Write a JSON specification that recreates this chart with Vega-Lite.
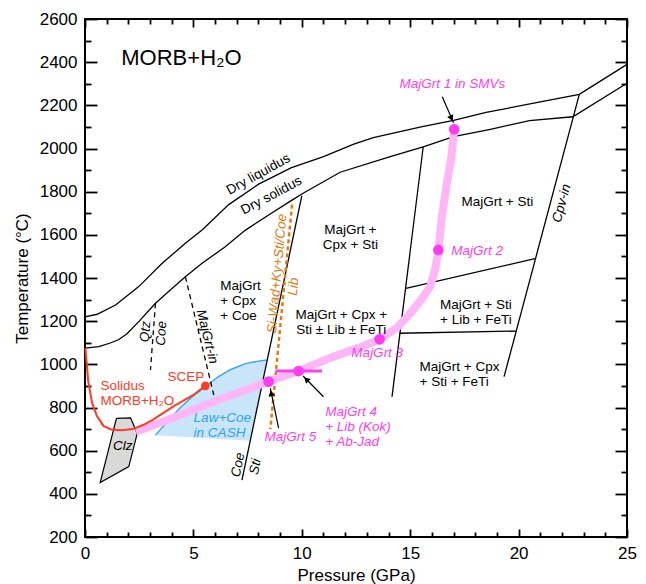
{
  "$schema": "https://vega.github.io/schema/vega-lite/v6.json",
  "width": 542,
  "height": 518,
  "autosize": {"type": "none"},
  "padding": {"left": 85, "top": 19, "right": 19, "bottom": 47},
  "config": {
    "font": "Liberation Sans",
    "view": {"stroke": "#000", "strokeWidth": 2},
    "axis": {"grid": false, "domain": false, "labelFlush": false, "labelOverlap": false, "tickColor": "#000", "tickWidth": 1.8, "labelColor": "#000", "labelFontSize": 17, "titleFontSize": 17, "titleFontWeight": "normal", "titleColor": "#000", "labelFont": "Liberation Sans", "titleFont": "Liberation Sans"},
    "text": {"font": "Liberation Sans", "fontSize": 13.5}
  },
  "datasets": {
    "law": [
      {"o": 1, "P": 3.25, "T": 672}, {"o": 2, "P": 3.8, "T": 735}, {"o": 3, "P": 4.4, "T": 800}, {"o": 4, "P": 5.0, "T": 855},
      {"o": 5, "P": 5.55, "T": 895}, {"o": 6, "P": 6.1, "T": 940}, {"o": 7, "P": 6.7, "T": 975}, {"o": 8, "P": 7.4, "T": 1003},
      {"o": 9, "P": 8.0, "T": 1015}, {"o": 10, "P": 8.4, "T": 1020}, {"o": 11, "P": 7.62, "T": 646}, {"o": 12, "P": 3.25, "T": 672}
    ],
    "clz": [
      {"o": 1, "P": 1.45, "T": 750}, {"o": 2, "P": 2.1, "T": 752}, {"o": 3, "P": 2.41, "T": 680}, {"o": 4, "P": 2.02, "T": 526},
      {"o": 5, "P": 0.7, "T": 452}, {"o": 6, "P": 1.45, "T": 750}
    ],
    "lines": [
      {"id": "liq", "o": 1, "P": 0, "T": 1220}, {"id": "liq", "o": 2, "P": 0.56, "T": 1232}, {"id": "liq", "o": 3, "P": 1.41, "T": 1275},
      {"id": "liq", "o": 4, "P": 2.48, "T": 1360}, {"id": "liq", "o": 5, "P": 3.56, "T": 1468}, {"id": "liq", "o": 6, "P": 4.63, "T": 1561},
      {"id": "liq", "o": 7, "P": 5.4, "T": 1622}, {"id": "liq", "o": 8, "P": 6.63, "T": 1740}, {"id": "liq", "o": 9, "P": 8.01, "T": 1835},
      {"id": "liq", "o": 10, "P": 9.5, "T": 1910}, {"id": "liq", "o": 11, "P": 11.0, "T": 1962}, {"id": "liq", "o": 12, "P": 12.4, "T": 2020},
      {"id": "liq", "o": 13, "P": 13.3, "T": 2050}, {"id": "liq", "o": 14, "P": 15.5, "T": 2100}, {"id": "liq", "o": 15, "P": 17.0, "T": 2130},
      {"id": "liq", "o": 16, "P": 18.5, "T": 2167}, {"id": "liq", "o": 17, "P": 20.7, "T": 2210}, {"id": "liq", "o": 18, "P": 22.8, "T": 2251},
      {"id": "liq", "o": 19, "P": 25, "T": 2390},
      {"id": "sol", "o": 1, "P": 0, "T": 1075}, {"id": "sol", "o": 2, "P": 0.64, "T": 1082}, {"id": "sol", "o": 3, "P": 1.2, "T": 1100},
      {"id": "sol", "o": 4, "P": 1.56, "T": 1115}, {"id": "sol", "o": 5, "P": 1.94, "T": 1142}, {"id": "sol", "o": 6, "P": 2.5, "T": 1200},
      {"id": "sol", "o": 7, "P": 3.25, "T": 1283}, {"id": "sol", "o": 8, "P": 4.0, "T": 1350}, {"id": "sol", "o": 9, "P": 4.63, "T": 1406},
      {"id": "sol", "o": 10, "P": 5.4, "T": 1468}, {"id": "sol", "o": 11, "P": 6.47, "T": 1545}, {"id": "sol", "o": 12, "P": 7.4, "T": 1622},
      {"id": "sol", "o": 13, "P": 8.47, "T": 1692}, {"id": "sol", "o": 14, "P": 9.55, "T": 1761}, {"id": "sol", "o": 15, "P": 10.1, "T": 1795},
      {"id": "sol", "o": 16, "P": 11.77, "T": 1890}, {"id": "sol", "o": 17, "P": 14.08, "T": 1962}, {"id": "sol", "o": 18, "P": 15.6, "T": 2008},
      {"id": "sol", "o": 19, "P": 17.0, "T": 2055}, {"id": "sol", "o": 20, "P": 18.7, "T": 2089}, {"id": "sol", "o": 21, "P": 20.5, "T": 2129},
      {"id": "sol", "o": 22, "P": 22.5, "T": 2147}, {"id": "sol", "o": 23, "P": 25, "T": 2302},
      {"id": "coesti", "o": 1, "P": 10.0, "T": 1780}, {"id": "coesti", "o": 2, "P": 7.24, "T": 464},
      {"id": "v15", "o": 1, "P": 15.6, "T": 2008}, {"id": "v15", "o": 2, "P": 14.16, "T": 850},
      {"id": "cpv", "o": 1, "P": 22.8, "T": 2251}, {"id": "cpv", "o": 2, "P": 19.33, "T": 943},
      {"id": "h1", "o": 1, "P": 14.8, "T": 1352}, {"id": "h1", "o": 2, "P": 20.8, "T": 1491},
      {"id": "h2", "o": 1, "P": 14.5, "T": 1144}, {"id": "h2", "o": 2, "P": 19.88, "T": 1154}
    ],
    "dashed": [
      {"id": "qtz", "o": 1, "P": 3.25, "T": 1283}, {"id": "qtz", "o": 2, "P": 3.02, "T": 974},
      {"id": "mgi", "o": 1, "P": 4.63, "T": 1406}, {"id": "mgi", "o": 2, "P": 5.94, "T": 858}
    ],
    "orange": [
      {"o": 1, "P": 9.55, "T": 1740}, {"o": 2, "P": 8.55, "T": 700}
    ],
    "red": [
      {"o": 1, "P": 0.02, "T": 1075}, {"o": 2, "P": 0.08, "T": 1000}, {"o": 3, "P": 0.15, "T": 920}, {"o": 4, "P": 0.33, "T": 820},
      {"o": 5, "P": 0.55, "T": 760}, {"o": 6, "P": 0.85, "T": 715}, {"o": 7, "P": 1.2, "T": 698}, {"o": 8, "P": 1.7, "T": 695},
      {"o": 9, "P": 2.2, "T": 700}, {"o": 10, "P": 2.7, "T": 720}, {"o": 11, "P": 3.1, "T": 742}, {"o": 12, "P": 4.1, "T": 806},
      {"o": 13, "P": 5.0, "T": 858}, {"o": 14, "P": 5.55, "T": 900}
    ],
    "pink": [
      {"o": 1, "P": 2.35, "T": 688}, {"o": 2, "P": 3.5, "T": 730}, {"o": 3, "P": 4.63, "T": 775}, {"o": 4, "P": 6.17, "T": 836},
      {"o": 5, "P": 7.7, "T": 892}, {"o": 6, "P": 8.47, "T": 920}, {"o": 7, "P": 9.85, "T": 969}, {"o": 8, "P": 11.31, "T": 1030},
      {"o": 9, "P": 12.85, "T": 1085}, {"o": 10, "P": 13.59, "T": 1116}, {"o": 11, "P": 14.39, "T": 1170}, {"o": 12, "P": 15.0, "T": 1236},
      {"o": 13, "P": 15.61, "T": 1313}, {"o": 14, "P": 15.92, "T": 1360}, {"o": 15, "P": 16.15, "T": 1440}, {"o": 16, "P": 16.3, "T": 1530},
      {"o": 17, "P": 16.46, "T": 1684}, {"o": 18, "P": 16.69, "T": 1839}, {"o": 19, "P": 16.9, "T": 1960}, {"o": 20, "P": 17.03, "T": 2089}
    ],
    "arrows": [
      {"id": "a1", "P": 16.48, "T": 2240, "P2": 17.0, "T2": 2119},
      {"id": "a5", "P": 8.93, "T": 704, "P2": 8.55, "T2": 889},
      {"id": "a4", "P": 11.0, "T": 850, "P2": 10.06, "T2": 946}
    ],
    "dots": [
      {"name": "MajGrt 1", "P": 17.03, "T": 2089}, {"name": "MajGrt 2", "P": 16.3, "T": 1530},
      {"name": "MajGrt 3", "P": 13.59, "T": 1116}, {"name": "MajGrt 4", "P": 9.85, "T": 969},
      {"name": "MajGrt 5", "P": 8.47, "T": 920}
    ]
  },
  "encoding": {
    "x": {"field": "P", "type": "quantitative", "scale": {"domain": [0, 25], "nice": false, "zero": false}, "axis": null},
    "y": {"field": "T", "type": "quantitative", "scale": {"domain": [200, 2600], "nice": false, "zero": false}, "axis": null}
  },
  "layer": [
    {
      "data": {"name": "law"},
      "mark": {"type": "line", "fill": "#c9e5f9", "strokeOpacity": 0},
      "encoding": {
        "x": {"field": "P", "type": "quantitative", "scale": {"domain": [0, 25], "nice": false, "zero": false},
          "axis": {"orient": "bottom", "values": [0,1,2,3,4,5,6,7,8,9,10,11,12,13,14,15,16,17,18,19,20,21,22,23,24,25],
            "labelExpr": "datum.value % 5 === 0 ? '' + datum.value : ''",
            "tickSize": {"condition": {"test": "datum.value % 5 === 0", "value": -8}, "value": -5},
            "labelPadding": 16, "title": "Pressure (GPa)", "titlePadding": 3}},
        "y": {"field": "T", "type": "quantitative", "scale": {"domain": [200, 2600], "nice": false, "zero": false},
          "axis": {"orient": "left", "values": [200,300,400,500,600,700,800,900,1000,1100,1200,1300,1400,1500,1600,1700,1800,1900,2000,2100,2200,2300,2400,2500,2600],
            "labelExpr": "datum.value % 200 === 0 ? '' + datum.value : ''",
            "tickSize": {"condition": {"test": "datum.value % 200 === 0", "value": -12}, "value": -6},
            "labelPadding": 20, "title": "Temperature (°C)", "titlePadding": 8}},
        "order": {"field": "o", "type": "quantitative"}
      }
    },
    {
      "data": {"name": "clz"},
      "mark": {"type": "line", "fill": "#d9d9d9", "stroke": "#000", "strokeWidth": 1.2},
      "encoding": {
        "x": {"field": "P", "type": "quantitative", "scale": {"domain": [0, 25], "nice": false, "zero": false},
          "axis": {"orient": "top", "values": [0,1,2,3,4,5,6,7,8,9,10,11,12,13,14,15,16,17,18,19,20,21,22,23,24,25],
            "labels": false, "title": null,
            "tickSize": {"condition": {"test": "datum.value % 5 === 0", "value": -8}, "value": -5}}},
        "y": {"field": "T", "type": "quantitative", "scale": {"domain": [200, 2600], "nice": false, "zero": false},
          "axis": {"orient": "right", "values": [200,300,400,500,600,700,800,900,1000,1100,1200,1300,1400,1500,1600,1700,1800,1900,2000,2100,2200,2300,2400,2500,2600],
            "labels": false, "title": null,
            "tickSize": {"condition": {"test": "datum.value % 200 === 0", "value": -12}, "value": -6}}},
        "order": {"field": "o", "type": "quantitative"}
      }
    },
    {
      "data": {"name": "law"},
      "transform": [{"filter": "datum.o <= 10"}],
      "mark": {"type": "line", "stroke": "#3aa6ee", "strokeWidth": 1.4},
      "encoding": {"order": {"field": "o", "type": "quantitative"}}
    },
    {
      "data": {"name": "lines"},
      "mark": {"type": "line", "stroke": "#000", "strokeWidth": 1.3},
      "encoding": {"detail": {"field": "id"}, "order": {"field": "o", "type": "quantitative"}}
    },
    {
      "data": {"name": "dashed"},
      "mark": {"type": "line", "stroke": "#000", "strokeWidth": 1.3, "strokeDash": [5, 4]},
      "encoding": {"detail": {"field": "id"}, "order": {"field": "o", "type": "quantitative"}}
    },
    {
      "data": {"name": "orange"},
      "mark": {"type": "line", "stroke": "#e07b12", "strokeWidth": 2.5, "strokeDash": [4, 3]},
      "encoding": {"order": {"field": "o", "type": "quantitative"}}
    },
    {
      "data": {"name": "pink"},
      "mark": {"type": "line", "stroke": "#ffb6f6", "strokeWidth": 8, "strokeCap": "butt", "strokeJoin": "round"},
      "encoding": {"order": {"field": "o", "type": "quantitative"}}
    },
    {
      "data": {"name": "red"},
      "mark": {"type": "line", "stroke": "#ff3a26", "strokeWidth": 2},
      "encoding": {"order": {"field": "o", "type": "quantitative"}}
    },
    {
      "data": {"values": [{"P": 8.78, "P2": 10.93, "T": 969}]},
      "mark": {"type": "rule", "stroke": "#ff3df0", "strokeWidth": 3},
      "encoding": {"x2": {"field": "P2"}}
    },
    {
      "data": {"name": "arrows"},
      "mark": {"type": "rule", "stroke": "#000", "strokeWidth": 1.2},
      "encoding": {"x2": {"field": "P2"}, "y2": {"field": "T2"}}
    },
    {
      "data": {"values": [{"P": 16.9, "T": 2140}]},
      "mark": {"type": "point", "shape": "triangle-up", "filled": true, "color": "#000", "opacity": 1, "size": 45, "angle": 155}
    },
    {
      "data": {"values": [{"P": 8.59, "T": 866}]},
      "mark": {"type": "point", "shape": "triangle-up", "filled": true, "color": "#000", "opacity": 1, "size": 45, "angle": 348}
    },
    {
      "data": {"values": [{"P": 10.21, "T": 930}]},
      "mark": {"type": "point", "shape": "triangle-up", "filled": true, "color": "#000", "opacity": 1, "size": 45, "angle": 315}
    },
    {
      "data": {"name": "dots"},
      "mark": {"type": "point", "filled": true, "color": "#ff3df0", "opacity": 1, "size": 115}
    },
    {
      "data": {"values": [{"P": 5.55, "T": 900}]},
      "mark": {"type": "point", "filled": true, "color": "#ff3a26", "opacity": 1, "size": 75}
    },
    {
      "data": {"values": [{"P": 4.45, "T": 2419, "label": "MORB+H₂O"}]},
      "mark": {"type": "text", "fontSize": 22, "color": "#000"},
      "encoding": {"text": {"field": "label"}}
    },
    {
      "data": {"values": [
        {"P": 19.02, "T": 1751, "label": "MajGrt + Sti"},
        {"P": 12.24, "T": 1622, "label": "MajGrt +\nCpx + Sti"},
        {"P": 11.82, "T": 1228, "label": "MajGrt + Cpx +\nSti ± Lib ± FeTi"}
      ]},
      "mark": {"type": "text", "color": "#000", "lineBreak": "\n", "lineHeight": 15},
      "encoding": {"text": {"field": "label"}}
    },
    {
      "data": {"values": [
        {"P": 6.24, "T": 1364, "label": "MajGrt\n+ Cpx\n+ Coe"},
        {"P": 16.38, "T": 1275, "label": "MajGrt + Sti\n+ Lib + FeTi"},
        {"P": 15.43, "T": 989, "label": "MajGrt + Cpx\n+ Sti + FeTi"}
      ]},
      "mark": {"type": "text", "color": "#000", "align": "left", "lineBreak": "\n", "lineHeight": 15},
      "encoding": {"text": {"field": "label"}}
    },
    {
      "data": {"values": [{"P": 8.0, "T": 1880, "label": "Dry liquidus"}]},
      "mark": {"type": "text", "color": "#000", "angle": 331},
      "encoding": {"text": {"field": "label"}}
    },
    {
      "data": {"values": [{"P": 8.6, "T": 1782, "label": "Dry solidus"}]},
      "mark": {"type": "text", "color": "#000", "angle": 332},
      "encoding": {"text": {"field": "label"}}
    },
    {
      "data": {"values": [{"P": 21.99, "T": 1746, "label": "Cpv-in"}]},
      "mark": {"type": "text", "color": "#000", "fontStyle": "italic", "angle": 285},
      "encoding": {"text": {"field": "label"}}
    },
    {
      "data": {"values": [{"P": 2.79, "T": 1151, "label": "Qtz"}, {"P": 3.53, "T": 1144, "label": "Coe"}]},
      "mark": {"type": "text", "color": "#000", "fontStyle": "italic", "angle": 274},
      "encoding": {"text": {"field": "label"}}
    },
    {
      "data": {"values": [{"P": 5.63, "T": 1128, "label": "MajGrt-in"}]},
      "mark": {"type": "text", "color": "#000", "fontStyle": "italic", "angle": 76},
      "encoding": {"text": {"field": "label"}}
    },
    {
      "data": {"values": [{"P": 7.06, "T": 534, "label": "Coe"}, {"P": 7.86, "T": 526, "label": "Sti"}]},
      "mark": {"type": "text", "color": "#000", "fontStyle": "italic", "angle": 282},
      "encoding": {"text": {"field": "label"}}
    },
    {
      "data": {"values": [{"P": 1.74, "T": 623, "label": "Clz"}]},
      "mark": {"type": "text", "color": "#000", "fontStyle": "italic"},
      "encoding": {"text": {"field": "label"}}
    },
    {
      "data": {"values": [
        {"P": 16.95, "T": 2297, "label": "MajGrt 1 in SMVs"},
        {"P": 13.48, "T": 1054, "label": "MajGrt 3"},
        {"P": 9.47, "T": 662, "label": "MajGrt 5"}
      ]},
      "mark": {"type": "text", "color": "#ff3df0", "fontStyle": "italic"},
      "encoding": {"text": {"field": "label"}}
    },
    {
      "data": {"values": [
        {"P": 16.89, "T": 1526, "label": "MajGrt 2"},
        {"P": 11.08, "T": 780, "label": "MajGrt 4\n+ Lib (Kok)\n+ Ab-Jad"}
      ]},
      "mark": {"type": "text", "color": "#ff3df0", "fontStyle": "italic", "align": "left", "lineBreak": "\n", "lineHeight": 15},
      "encoding": {"text": {"field": "label"}}
    },
    {
      "data": {"values": [{"P": 0.71, "T": 900, "label": "Solidus\nMORB+H₂O"}]},
      "mark": {"type": "text", "color": "#ff3a26", "align": "left", "lineBreak": "\n", "lineHeight": 15},
      "encoding": {"text": {"field": "label"}}
    },
    {
      "data": {"values": [{"P": 4.65, "T": 943, "label": "SCEP"}]},
      "mark": {"type": "text", "color": "#ff3a26"},
      "encoding": {"text": {"field": "label"}}
    },
    {
      "data": {"values": [{"P": 5.01, "T": 751, "label": "Law+Coe\nin CASH"}]},
      "mark": {"type": "text", "color": "#2ea3f2", "fontStyle": "italic", "align": "left", "lineBreak": "\n", "lineHeight": 15},
      "encoding": {"text": {"field": "label"}}
    },
    {
      "data": {"values": [{"P": 8.87, "T": 1420, "label": "Si-Wad+Ky+Sti/Coe"}, {"P": 9.62, "T": 1360, "label": "Lib"}]},
      "mark": {"type": "text", "color": "#e07b12", "fontStyle": "italic", "angle": 275},
      "encoding": {"text": {"field": "label"}}
    }
  ]
}
